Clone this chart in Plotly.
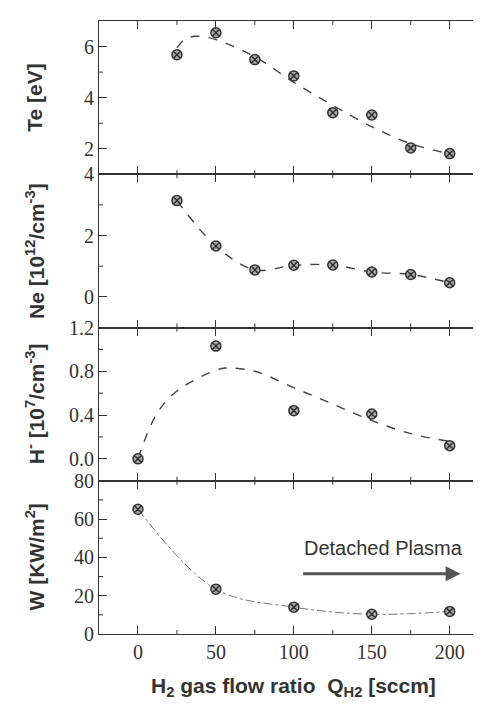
import plotly.graph_objects as go

# ---- data ----
te_x = [25, 50, 75, 100, 125, 150, 175, 200]
te_y = [5.68, 6.54, 5.49, 4.85, 3.41, 3.32, 2.03, 1.81]
te_fit_x = [25, 30, 37, 50, 75, 100, 125, 150, 175, 200]
te_fit_y = [5.95, 6.28, 6.40, 6.27, 5.60, 4.60, 3.70, 2.86, 2.20, 1.80]

ne_x = [25, 50, 75, 100, 125, 150, 175, 200]
ne_y = [3.14, 1.66, 0.88, 1.03, 1.04, 0.81, 0.73, 0.46]

hm_x = [0, 50, 100, 150, 200]
hm_y = [0.0, 1.03, 0.44, 0.41, 0.12]
hm_fit_x = [0, 12, 25, 50, 56, 75, 100, 125, 150, 175, 200]
hm_fit_y = [0.0, 0.41, 0.62, 0.81, 0.83, 0.80, 0.65, 0.50, 0.35, 0.23, 0.16]

w_x = [0, 50, 100, 150, 200]
w_y = [65.1, 23.4, 14.0, 10.3, 11.8]

x_ticks = [0, 50, 100, 150, 200]
x_minor = [25, 75, 125, 175]
y_ranges = [[1, 7], [-1, 4], [-0.2, 1.2], [0, 80]]
y_ticks = [[2, 4, 6], [0, 2, 4], [0.0, 0.4, 0.8, 1.2], [0, 20, 40, 60, 80]]
y_ticktext = [["2", "4", "6"], ["0", "2", "4"], ["0.0", "0.4", "0.8", "1.2"],
              ["0", "20", "40", "60", "80"]]
y_minor = [[3, 5], [1, 3], [0.2, 0.6, 1.0], [10, 30, 50, 70]]
titles = ["Te [eV]",
          "Ne [10<sup>12</sup>/cm<sup>-3</sup>]",
          "H<sup>-</sup> [10<sup>7</sup>/cm<sup>-3</sup>]",
          "W [KW/m<sup>2</sup>]"]

INK = "rgb(51,51,51)"
SERIF = "Liberation Serif"
SANS = "Liberation Sans"

marker = dict(symbol="circle-x", size=10, color="rgb(170,170,170)",
              line=dict(color=INK, width=1.5))
fitline = dict(color="rgb(68,68,68)", width=1.4, dash="dash")

traces = [
    go.Scatter(x=te_fit_x, y=te_fit_y, mode="lines", line_shape="spline", line=fitline,
               xaxis="x", yaxis="y"),
    go.Scatter(x=te_x, y=te_y, mode="markers", marker=marker, xaxis="x", yaxis="y"),
    go.Scatter(x=ne_x, y=ne_y, mode="lines+markers", line_shape="spline", line=fitline,
               marker=marker, xaxis="x2", yaxis="y2"),
    go.Scatter(x=hm_fit_x, y=hm_fit_y, mode="lines", line_shape="spline", line=fitline,
               xaxis="x3", yaxis="y3"),
    go.Scatter(x=hm_x, y=hm_y, mode="markers", marker=marker, xaxis="x3", yaxis="y3"),
    go.Scatter(x=w_x, y=w_y, mode="lines+markers", line_shape="spline",
               line=dict(color="rgb(119,119,119)", width=1, dash="dashdot"),
               marker=marker, xaxis="x4", yaxis="y4"),
]

layout = dict(width=481, height=700, margin=dict(l=91, r=5, t=2, b=74),
              plot_bgcolor="white", paper_bgcolor="white", showlegend=False)

for r in range(1, 5):
    s = "" if r == 1 else str(r)
    top = 1 - 0.25 * (r - 1)
    layout["xaxis" + s] = dict(
        domain=[0, 1], anchor="y" + s, range=[-25, 222], tickmode="array",
        tickvals=x_ticks, ticktext=[str(v) for v in x_ticks],
        showline=True, linecolor=INK, linewidth=1, mirror="ticks",
        ticks="inside", ticklen=8, tickcolor=INK, showgrid=False, zeroline=False,
        showticklabels=(r == 4), tickfont=dict(family=SERIF, size=20, color=INK))
    layout["yaxis" + s] = dict(
        domain=[top - 0.25, top], anchor="x" + s, range=y_ranges[r - 1],
        tickmode="array", tickvals=y_ticks[r - 1], ticktext=y_ticktext[r - 1],
        showline=True, linecolor=INK, linewidth=1, ticks="inside", ticklen=8,
        tickcolor=INK, showgrid=False, zeroline=False,
        tickfont=dict(family=SERIF, size=20, color=INK))

fig = go.Figure(data=traces, layout=layout)

# minor ticks as pixel-length shapes on the axes
for r in range(1, 5):
    s = "" if r == 1 else str(r)
    for v in x_minor:
        fig.add_shape(type="line", xref="x" + s, yref="y" + s + " domain",
                      ysizemode="pixel", yanchor=0, x0=v, x1=v, y0=0, y1=4,
                      line=dict(color=INK, width=1))
        fig.add_shape(type="line", xref="x" + s, yref="y" + s + " domain",
                      ysizemode="pixel", yanchor=1, x0=v, x1=v, y0=0, y1=-4,
                      line=dict(color=INK, width=1))
    for v in y_minor[r - 1]:
        fig.add_shape(type="line", xref="x" + s + " domain", yref="y" + s,
                      xsizemode="pixel", xanchor=0, x0=0, x1=4, y0=v, y1=v,
                      line=dict(color=INK, width=1))

for i, t in enumerate(titles):
    fig.add_annotation(text="<b>" + t + "</b>", xref="paper", yref="paper", x=-0.166,
                       y=0.875 - 0.25 * i, textangle=-90, showarrow=False,
                       xanchor="center", yanchor="middle",
                       font=dict(family=SANS, size=21, color=INK))

fig.add_annotation(text="<b>H<sub>2</sub> gas flow ratio  Q<sub>H2</sub> [sccm]</b>",
                   xref="paper", yref="paper", x=0.506, y=-0.0865, showarrow=False,
                   xanchor="center", yanchor="middle",
                   font=dict(family=SANS, size=21, color=INK))

fig.add_annotation(text="Detached Plasma", xref="x4", yref="y4", x=157.6, y=44.8,
                   showarrow=False, xanchor="center", yanchor="middle",
                   font=dict(family=SANS, size=20, color=INK))
fig.add_annotation(x=207, y=31.5, ax=105, ay=31.5, xref="x4", yref="y4",
                   axref="x4", ayref="y4", showarrow=True, arrowhead=2, arrowsize=1,
                   arrowwidth=3, arrowcolor="rgb(85,85,85)", text="")

fig.write_html("out.html")
